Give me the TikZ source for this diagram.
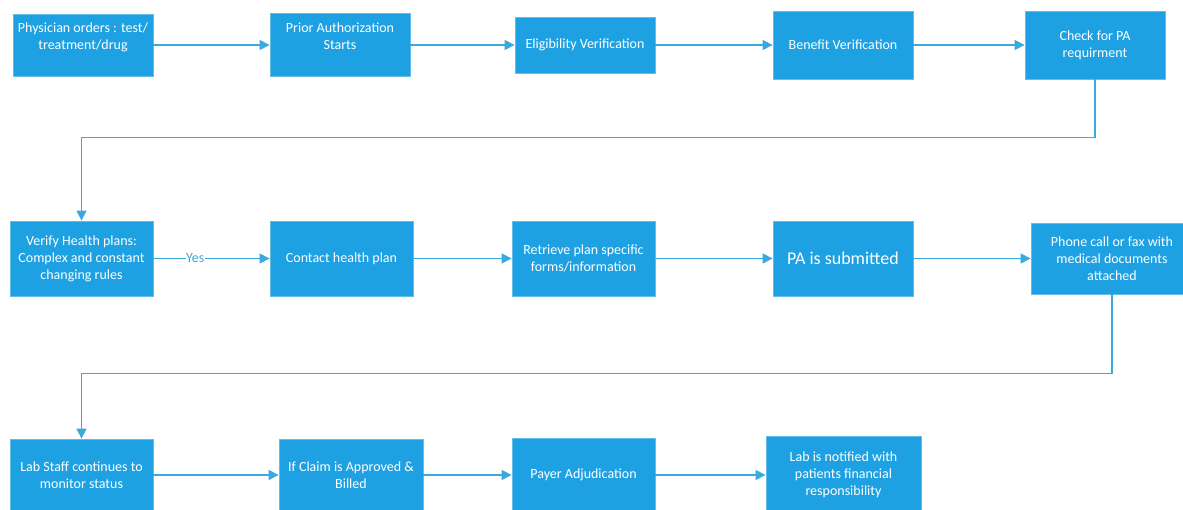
\documentclass[tikz,border=0pt]{standalone}
\usepackage{fontspec}
\setmainfont{Carlito}
\usetikzlibrary{arrows.meta,positioning}
\definecolor{boxblue}{RGB}{29,161,226}
\definecolor{boxedge}{RGB}{100,188,234}
\definecolor{lineblue}{RGB}{60,168,224}
\begin{document}
\begin{tikzpicture}[x=1pt, y=-1pt, >={Triangle[length=10pt,width=10pt]},
  b/.style={rectangle, fill=boxblue, draw=boxedge, line width=0.8pt, text=white, align=center, inner sep=2pt, font=\fontsize{14}{17}\selectfont},
  ln/.style={->, draw=lineblue, line width=1.2pt}]
\useasboundingbox (0,0) rectangle (1183,510);
% first row
\node[b, minimum width=140pt, minimum height=62pt] (phys) at (83,45) {Physician orders : test/\\treatment/drug\\\mbox{}};
\node[b, minimum width=140pt, minimum height=63pt] (prior) at (340,45) {Prior Authorization\\Starts\\\mbox{}};
\node[b, minimum width=140pt, minimum height=56pt] (elig) at (585,45) {Eligibility Verification};
\node[b, minimum width=140pt, minimum height=68pt] (ben) at (843,45) {Benefit Verification};
\node[b, minimum width=140pt, minimum height=68pt] (chk) at (1095,45) {Check for PA\\requirment};
% second row
\node[b, minimum width=143pt, minimum height=75pt] (ver) at (81.5,258.5) {Verify Health plans:\\Complex and constant\\changing rules};
\node[b, minimum width=143pt, minimum height=75pt] (cont) at (341.5,258.5) {Contact health plan};
\node[b, minimum width=143pt, minimum height=75pt] (ret) at (583.5,258.5) {Retrieve plan specific\\forms/information};
\node[b, minimum width=140pt, minimum height=75pt, font=\fontsize{18}{21}\selectfont] (sub) at (843,258.5) {PA is submitted};
\node[b, minimum width=162pt, minimum height=71pt] (fax) at (1112,258.5) {Phone call or fax with\\medical documents\\attached};
% third row
\node[b, minimum width=143pt, minimum height=72pt] (lab) at (81.5,475) {Lab Staff continues to\\monitor status};
\node[b, minimum width=144pt, minimum height=72pt] (claim) at (351,475) {If Claim is Approved \&\\Billed};
\node[b, minimum width=143pt, minimum height=74pt] (adj) at (583.5,475) {Payer Adjudication};
\node[b, minimum width=155pt, minimum height=78pt] (notif) at (843.5,475) {Lab is notified with\\patients financial\\responsibility};
% connectors
\draw[ln] (phys) -- (prior);
\draw[ln] (prior) -- (elig);
\draw[ln] (elig) -- (ben);
\draw[ln] (ben) -- (chk);
\draw[ln] (chk.south) -- ++(0,58) -| (ver.north);
\draw[ln] (ver) -- node[pos=0.36, fill=white, inner sep=0.5pt, text=lineblue, font=\fontsize{14}{17}\selectfont] {Yes} (cont);
\draw[ln] (cont) -- (ret);
\draw[ln] (ret) -- (sub);
\draw[ln] (sub) -- (fax);
\draw[ln] (fax.south) -- ++(0,79) -| (lab.north);
\draw[ln] (lab) -- (claim);
\draw[ln] (claim) -- (adj);
\draw[ln] (adj) -- (notif);
\end{tikzpicture}
\end{document}
